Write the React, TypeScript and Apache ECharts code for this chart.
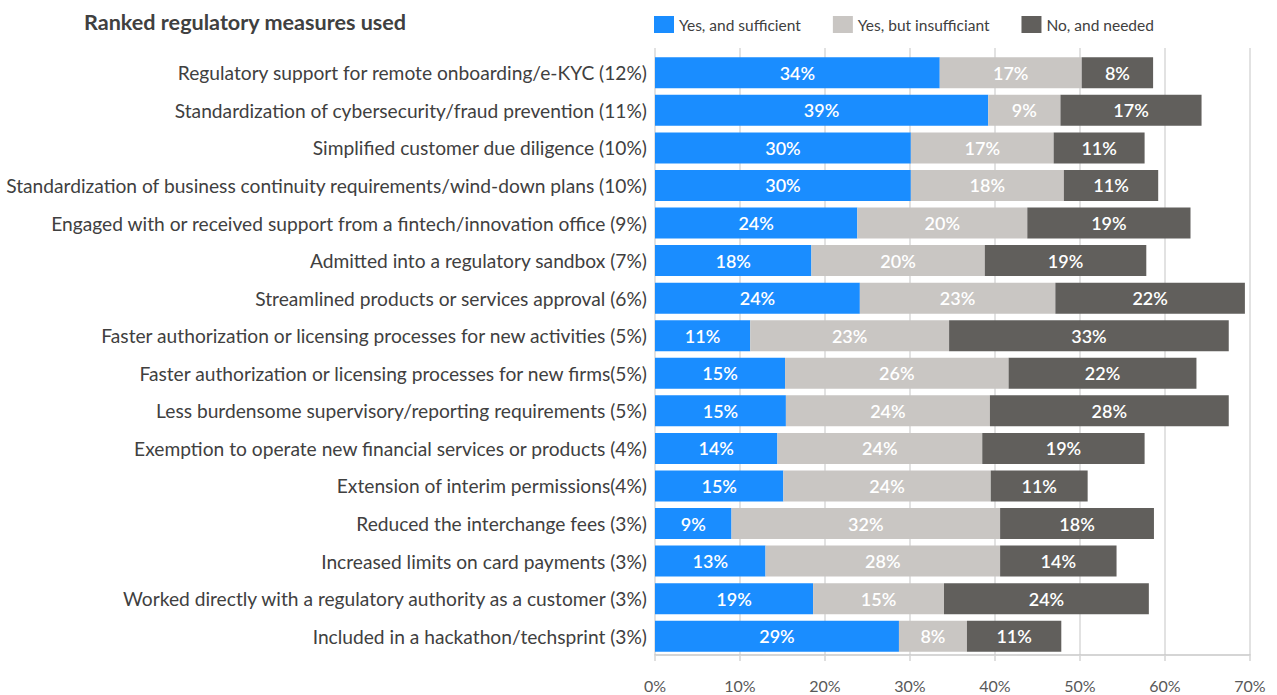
import React, { useEffect, useRef } from "react";
import * as echarts from "echarts";

const categories = [
  "Regulatory support for remote onboarding/e-KYC (12%)",
  "Standardization of cybersecurity/fraud prevention (11%)",
  "Simplified customer due diligence (10%)",
  "Standardization of business continuity requirements/wind-down plans (10%)",
  "Engaged with or received support from a fintech/innovation office (9%)",
  "Admitted into a regulatory sandbox (7%)",
  "Streamlined products or services approval (6%)",
  "Faster authorization or licensing processes for new activities (5%)",
  "Faster authorization or licensing processes for new firms(5%)",
  "Less burdensome supervisory/reporting requirements (5%)",
  "Exemption to operate new financial services or products (4%)",
  "Extension of interim permissions(4%)",
  "Reduced the interchange fees (3%)",
  "Increased limits on card payments (3%)",
  "Worked directly with a regulatory authority as a customer (3%)",
  "Included in a hackathon/techsprint (3%)",
];

const yesSufficient = [33.5, 39.2, 30.1, 30.1, 23.8, 18.4, 24.1, 11.2, 15.3, 15.4, 14.4, 15.1, 9.0, 13.0, 18.6, 28.7];
const yesInsufficient = [16.7, 8.5, 16.8, 18.0, 20.0, 20.4, 23.0, 23.4, 26.3, 24.0, 24.1, 24.4, 31.6, 27.6, 15.4, 8.0];
const noNeeded = [8.4, 16.6, 10.7, 11.1, 19.2, 19.0, 22.3, 32.9, 22.1, 28.1, 19.1, 11.4, 18.1, 13.7, 24.1, 11.1];

const seriesNames = ["Yes, and sufficient", "Yes, but insufficiant", "No, and needed"];
const seriesColors = ["#1a8dff", "#c9c6c3", "#615f5c"];
const xTicks = { min: 0, max: 70, interval: 10 };

const FONT = "Lato, 'Noto Sans', sans-serif";

export default function App() {
  const ref = useRef<HTMLDivElement>(null);
  useEffect(() => {
    document.body.style.margin = "0";
    if (!ref.current) return;
    const chart = echarts.init(ref.current, null, { renderer: "svg" });
    const data = [yesSufficient, yesInsufficient, noNeeded];
    chart.setOption({
      animation: false,
      textStyle: { fontFamily: FONT },
      title: {
        text: "Ranked regulatory measures used",
        left: 79,
        top: 6,
        textStyle: { fontFamily: FONT, fontSize: 21.6, fontWeight: "bold", color: "#404040" },
      },
      legend: {
        left: 649,
        top: 11,
        itemWidth: 20,
        itemHeight: 17,
        itemGap: 32,
        icon: "rect",
        textStyle: { fontFamily: FONT, fontSize: 15.5, color: "#404040" },
        data: seriesNames,
      },
      grid: { left: 655, right: 27, top: 54, bottom: 40, containLabel: false },
      xAxis: [
        {
          type: "value",
          min: xTicks.min,
          max: xTicks.max,
          interval: xTicks.interval,
          axisLabel: { formatter: "{value}%", color: "#595959", fontSize: 16, margin: 22, fontFamily: FONT },
          axisLine: { show: true, lineStyle: { color: "#c8c8c8", width: 1.5 } },
          axisTick: { show: true, length: 6, lineStyle: { color: "#d4d4d4", width: 1.5 } },
          splitLine: { show: true, lineStyle: { color: "#d9d9d9", width: 1.5 } },
        },
        {
          type: "value",
          position: "top",
          min: xTicks.min,
          max: xTicks.max,
          interval: xTicks.interval,
          axisLabel: { show: false },
          axisLine: { show: false },
          axisTick: { show: true, length: 6, lineStyle: { color: "#d9d9d9", width: 1.5 } },
          splitLine: { show: false },
        },
      ],
      yAxis: {
        type: "category",
        inverse: true,
        data: categories,
        axisLine: { show: false },
        axisTick: { show: false },
        axisLabel: { color: "#404040", fontSize: 19.2, margin: 8, fontFamily: FONT },
      },
      series: seriesNames.map((name, i) => ({
        name,
        type: "bar",
        stack: "total",
        xAxisIndex: 0,
        barWidth: 31,
        itemStyle: { color: seriesColors[i] },
        label: {
          show: true,
          position: "inside",
          color: "#ffffff",
          fontSize: 18,
          fontWeight: 600,
          fontFamily: FONT,
          formatter: (p: any) => Math.round(p.value) + "%",
        },
        data: data[i],
      })),
    });
    return () => chart.dispose();
  }, []);
  return <div ref={ref} style={{ width: 1277, height: 695 }} />;
}
